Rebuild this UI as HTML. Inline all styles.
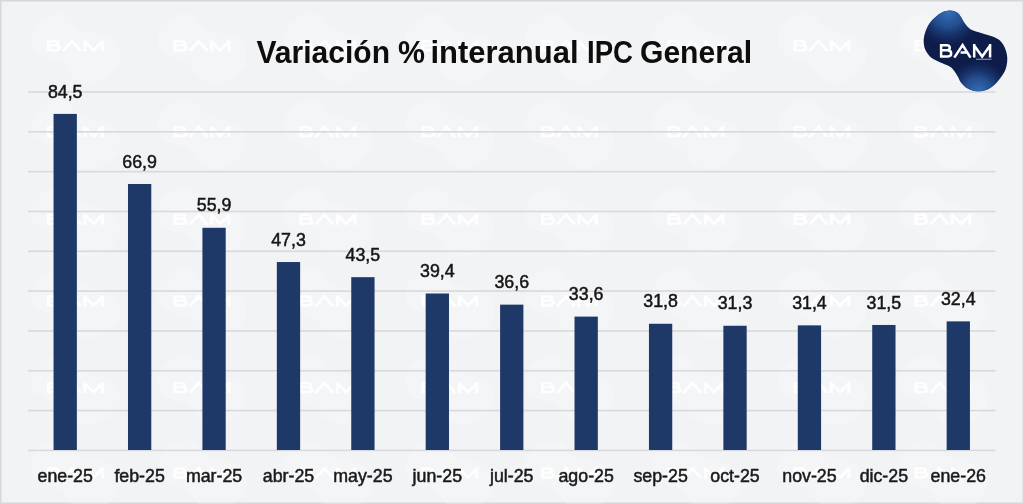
<!DOCTYPE html>
<html><head><meta charset="utf-8"><style>
html,body{margin:0;padding:0;background:#f2f3f5;}
.wrap{position:absolute;left:0;top:0;width:1024px;height:504px;will-change:transform;}
svg{display:block;font-family:"Liberation Sans",sans-serif;}
</style></head><body><div class="wrap">
<svg width="1024" height="504" viewBox="0 0 1024 504">
<defs>
<path id="blob" d="M-15.60 -39.90 C-13.08 -39.90 -10.25 -39.05 -8.40 -38.00 C-6.55 -36.95 -5.68 -35.27 -4.50 -33.60 C-3.32 -31.93 -2.80 -30.02 -1.30 -28.00 C0.20 -25.98 2.22 -23.10 4.50 -21.50 C6.78 -19.90 9.75 -19.32 12.40 -18.40 C15.05 -17.48 17.75 -16.80 20.40 -16.00 C23.05 -15.20 26.05 -14.53 28.30 -13.60 C30.55 -12.67 32.32 -11.72 33.90 -10.40 C35.48 -9.08 36.68 -7.55 37.80 -5.70 C38.92 -3.85 39.93 -1.55 40.60 0.70 C41.27 2.95 41.73 5.33 41.80 7.80 C41.87 10.27 41.63 12.97 41.00 15.50 C40.37 18.03 39.83 20.03 38.00 23.00 C36.17 25.97 32.65 30.65 30.00 33.30 C27.35 35.95 25.27 37.65 22.10 38.90 C18.93 40.15 14.30 40.93 11.00 40.80 C7.70 40.67 4.82 39.48 2.30 38.10 C-0.22 36.72 -2.38 34.62 -4.10 32.50 C-5.82 30.38 -6.52 27.77 -8.00 25.40 C-9.48 23.03 -11.47 20.00 -13.00 18.30 C-14.53 16.60 -15.18 16.25 -17.20 15.20 C-19.22 14.15 -22.47 13.18 -25.10 12.00 C-27.73 10.82 -30.88 9.55 -33.00 8.10 C-35.12 6.65 -36.47 5.15 -37.80 3.30 C-39.13 1.45 -40.33 -0.62 -41.00 -3.00 C-41.67 -5.38 -41.97 -8.33 -41.80 -11.00 C-41.63 -13.67 -40.97 -16.33 -40.00 -19.00 C-39.03 -21.67 -37.55 -24.70 -36.00 -27.00 C-34.45 -29.30 -32.78 -30.97 -30.70 -32.80 C-28.62 -34.63 -26.02 -36.82 -23.50 -38.00 C-20.98 -39.18 -18.12 -39.90 -15.60 -39.90 Z"/>
<path id="bam" d="M1.10 0.00 L1.10 13.50 M0.00 1.10 L6.50 1.10 C10.90 1.10 10.90 6.20 6.50 6.20 L1.10 6.20 M0.00 6.20 L7.20 6.20 C12.50 6.20 12.50 12.40 7.20 12.40 L0.00 12.40 M14.30 13.50 L22.60 0.90 L30.50 13.50 M20.60 8.30 L27.20 8.30 M34.20 13.50 L34.20 0.00 M34.20 1.40 L42.15 12.40 L50.10 1.40 M50.10 0.00 L50.10 13.50"/><path id="bamw" d="M1.10 0.00 L1.10 13.50 M0.00 1.10 L6.50 1.10 C10.90 1.10 10.90 6.20 6.50 6.20 L1.10 6.20 M0.00 6.20 L7.20 6.20 C12.50 6.20 12.50 12.40 7.20 12.40 L0.00 12.40 M14.30 13.50 L22.60 0.90 L30.50 13.50 M34.20 13.50 L34.20 0.00 M34.20 1.40 L42.15 12.40 L50.10 1.40 M50.10 0.00 L50.10 13.50"/>
<radialGradient id="h1" gradientUnits="userSpaceOnUse" cx="948" cy="12" r="34">
<stop offset="0%" stop-color="#3470b8" stop-opacity="1"/>
<stop offset="45%" stop-color="#2a5aa0" stop-opacity="0.8"/>
<stop offset="100%" stop-color="#1a3a7a" stop-opacity="0"/>
</radialGradient>
<radialGradient id="h2" gradientUnits="userSpaceOnUse" cx="978" cy="92" r="32">
<stop offset="0%" stop-color="#3470b8" stop-opacity="1"/>
<stop offset="45%" stop-color="#2a5aa0" stop-opacity="0.8"/>
<stop offset="100%" stop-color="#1a3a7a" stop-opacity="0"/>
</radialGradient>
</defs>
<rect x="0" y="0" width="1024" height="504" fill="#d6d7d9"/>
<rect x="1.5" y="1.5" width="1021" height="501" fill="#f2f3f5"/>
<g transform="translate(75.5,45.8) translate(0,2) scale(1.07,0.86)"><use href="#blob" fill="#ffffff" fill-opacity="0.2"/></g><g transform="translate(47.20,40.40) scale(1.1,0.8)"><use href="#bamw" stroke="#ffffff" stroke-opacity="0.9" stroke-width="2.9" fill="none"/></g><g transform="translate(202.2,45.8) translate(0,2) scale(1.07,0.86)"><use href="#blob" fill="#ffffff" fill-opacity="0.2"/></g><g transform="translate(173.90,40.40) scale(1.1,0.8)"><use href="#bamw" stroke="#ffffff" stroke-opacity="0.9" stroke-width="2.9" fill="none"/></g><g transform="translate(328,45.8) translate(0,2) scale(1.07,0.86)"><use href="#blob" fill="#ffffff" fill-opacity="0.2"/></g><g transform="translate(299.70,40.40) scale(1.1,0.8)"><use href="#bamw" stroke="#ffffff" stroke-opacity="0.9" stroke-width="2.9" fill="none"/></g><g transform="translate(450,45.8) translate(0,2) scale(1.07,0.86)"><use href="#blob" fill="#ffffff" fill-opacity="0.2"/></g><g transform="translate(421.70,40.40) scale(1.1,0.8)"><use href="#bamw" stroke="#ffffff" stroke-opacity="0.9" stroke-width="2.9" fill="none"/></g><g transform="translate(569.5,45.8) translate(0,2) scale(1.07,0.86)"><use href="#blob" fill="#ffffff" fill-opacity="0.2"/></g><g transform="translate(541.20,40.40) scale(1.1,0.8)"><use href="#bamw" stroke="#ffffff" stroke-opacity="0.9" stroke-width="2.9" fill="none"/></g><g transform="translate(696,45.8) translate(0,2) scale(1.07,0.86)"><use href="#blob" fill="#ffffff" fill-opacity="0.2"/></g><g transform="translate(667.70,40.40) scale(1.1,0.8)"><use href="#bamw" stroke="#ffffff" stroke-opacity="0.9" stroke-width="2.9" fill="none"/></g><g transform="translate(822,45.8) translate(0,2) scale(1.07,0.86)"><use href="#blob" fill="#ffffff" fill-opacity="0.2"/></g><g transform="translate(793.70,40.40) scale(1.1,0.8)"><use href="#bamw" stroke="#ffffff" stroke-opacity="0.9" stroke-width="2.9" fill="none"/></g><g transform="translate(943,45.8) translate(0,2) scale(1.07,0.86)"><use href="#blob" fill="#ffffff" fill-opacity="0.2"/></g><g transform="translate(914.70,40.40) scale(1.1,0.8)"><use href="#bamw" stroke="#ffffff" stroke-opacity="0.9" stroke-width="2.9" fill="none"/></g><g transform="translate(75.5,131.7) translate(0,2) scale(1.07,0.86)"><use href="#blob" fill="#ffffff" fill-opacity="0.2"/></g><g transform="translate(47.20,126.30) scale(1.1,0.8)"><use href="#bamw" stroke="#ffffff" stroke-opacity="0.9" stroke-width="2.9" fill="none"/></g><g transform="translate(202.2,131.7) translate(0,2) scale(1.07,0.86)"><use href="#blob" fill="#ffffff" fill-opacity="0.2"/></g><g transform="translate(173.90,126.30) scale(1.1,0.8)"><use href="#bamw" stroke="#ffffff" stroke-opacity="0.9" stroke-width="2.9" fill="none"/></g><g transform="translate(328,131.7) translate(0,2) scale(1.07,0.86)"><use href="#blob" fill="#ffffff" fill-opacity="0.2"/></g><g transform="translate(299.70,126.30) scale(1.1,0.8)"><use href="#bamw" stroke="#ffffff" stroke-opacity="0.9" stroke-width="2.9" fill="none"/></g><g transform="translate(450,131.7) translate(0,2) scale(1.07,0.86)"><use href="#blob" fill="#ffffff" fill-opacity="0.2"/></g><g transform="translate(421.70,126.30) scale(1.1,0.8)"><use href="#bamw" stroke="#ffffff" stroke-opacity="0.9" stroke-width="2.9" fill="none"/></g><g transform="translate(569.5,131.7) translate(0,2) scale(1.07,0.86)"><use href="#blob" fill="#ffffff" fill-opacity="0.2"/></g><g transform="translate(541.20,126.30) scale(1.1,0.8)"><use href="#bamw" stroke="#ffffff" stroke-opacity="0.9" stroke-width="2.9" fill="none"/></g><g transform="translate(696,131.7) translate(0,2) scale(1.07,0.86)"><use href="#blob" fill="#ffffff" fill-opacity="0.2"/></g><g transform="translate(667.70,126.30) scale(1.1,0.8)"><use href="#bamw" stroke="#ffffff" stroke-opacity="0.9" stroke-width="2.9" fill="none"/></g><g transform="translate(822,131.7) translate(0,2) scale(1.07,0.86)"><use href="#blob" fill="#ffffff" fill-opacity="0.2"/></g><g transform="translate(793.70,126.30) scale(1.1,0.8)"><use href="#bamw" stroke="#ffffff" stroke-opacity="0.9" stroke-width="2.9" fill="none"/></g><g transform="translate(943,131.7) translate(0,2) scale(1.07,0.86)"><use href="#blob" fill="#ffffff" fill-opacity="0.2"/></g><g transform="translate(914.70,126.30) scale(1.1,0.8)"><use href="#bamw" stroke="#ffffff" stroke-opacity="0.9" stroke-width="2.9" fill="none"/></g><g transform="translate(75.5,219.3) translate(0,2) scale(1.07,0.86)"><use href="#blob" fill="#ffffff" fill-opacity="0.2"/></g><g transform="translate(47.20,213.90) scale(1.1,0.8)"><use href="#bamw" stroke="#ffffff" stroke-opacity="0.9" stroke-width="2.9" fill="none"/></g><g transform="translate(202.2,219.3) translate(0,2) scale(1.07,0.86)"><use href="#blob" fill="#ffffff" fill-opacity="0.2"/></g><g transform="translate(173.90,213.90) scale(1.1,0.8)"><use href="#bamw" stroke="#ffffff" stroke-opacity="0.9" stroke-width="2.9" fill="none"/></g><g transform="translate(328,219.3) translate(0,2) scale(1.07,0.86)"><use href="#blob" fill="#ffffff" fill-opacity="0.2"/></g><g transform="translate(299.70,213.90) scale(1.1,0.8)"><use href="#bamw" stroke="#ffffff" stroke-opacity="0.9" stroke-width="2.9" fill="none"/></g><g transform="translate(450,219.3) translate(0,2) scale(1.07,0.86)"><use href="#blob" fill="#ffffff" fill-opacity="0.2"/></g><g transform="translate(421.70,213.90) scale(1.1,0.8)"><use href="#bamw" stroke="#ffffff" stroke-opacity="0.9" stroke-width="2.9" fill="none"/></g><g transform="translate(569.5,219.3) translate(0,2) scale(1.07,0.86)"><use href="#blob" fill="#ffffff" fill-opacity="0.2"/></g><g transform="translate(541.20,213.90) scale(1.1,0.8)"><use href="#bamw" stroke="#ffffff" stroke-opacity="0.9" stroke-width="2.9" fill="none"/></g><g transform="translate(696,219.3) translate(0,2) scale(1.07,0.86)"><use href="#blob" fill="#ffffff" fill-opacity="0.2"/></g><g transform="translate(667.70,213.90) scale(1.1,0.8)"><use href="#bamw" stroke="#ffffff" stroke-opacity="0.9" stroke-width="2.9" fill="none"/></g><g transform="translate(822,219.3) translate(0,2) scale(1.07,0.86)"><use href="#blob" fill="#ffffff" fill-opacity="0.2"/></g><g transform="translate(793.70,213.90) scale(1.1,0.8)"><use href="#bamw" stroke="#ffffff" stroke-opacity="0.9" stroke-width="2.9" fill="none"/></g><g transform="translate(943,219.3) translate(0,2) scale(1.07,0.86)"><use href="#blob" fill="#ffffff" fill-opacity="0.2"/></g><g transform="translate(914.70,213.90) scale(1.1,0.8)"><use href="#bamw" stroke="#ffffff" stroke-opacity="0.9" stroke-width="2.9" fill="none"/></g><g transform="translate(75.5,301) translate(0,2) scale(1.07,0.86)"><use href="#blob" fill="#ffffff" fill-opacity="0.2"/></g><g transform="translate(47.20,295.60) scale(1.1,0.8)"><use href="#bamw" stroke="#ffffff" stroke-opacity="0.9" stroke-width="2.9" fill="none"/></g><g transform="translate(202.2,301) translate(0,2) scale(1.07,0.86)"><use href="#blob" fill="#ffffff" fill-opacity="0.2"/></g><g transform="translate(173.90,295.60) scale(1.1,0.8)"><use href="#bamw" stroke="#ffffff" stroke-opacity="0.9" stroke-width="2.9" fill="none"/></g><g transform="translate(328,301) translate(0,2) scale(1.07,0.86)"><use href="#blob" fill="#ffffff" fill-opacity="0.2"/></g><g transform="translate(299.70,295.60) scale(1.1,0.8)"><use href="#bamw" stroke="#ffffff" stroke-opacity="0.9" stroke-width="2.9" fill="none"/></g><g transform="translate(450,301) translate(0,2) scale(1.07,0.86)"><use href="#blob" fill="#ffffff" fill-opacity="0.2"/></g><g transform="translate(421.70,295.60) scale(1.1,0.8)"><use href="#bamw" stroke="#ffffff" stroke-opacity="0.9" stroke-width="2.9" fill="none"/></g><g transform="translate(569.5,301) translate(0,2) scale(1.07,0.86)"><use href="#blob" fill="#ffffff" fill-opacity="0.2"/></g><g transform="translate(541.20,295.60) scale(1.1,0.8)"><use href="#bamw" stroke="#ffffff" stroke-opacity="0.9" stroke-width="2.9" fill="none"/></g><g transform="translate(696,301) translate(0,2) scale(1.07,0.86)"><use href="#blob" fill="#ffffff" fill-opacity="0.2"/></g><g transform="translate(667.70,295.60) scale(1.1,0.8)"><use href="#bamw" stroke="#ffffff" stroke-opacity="0.9" stroke-width="2.9" fill="none"/></g><g transform="translate(822,301) translate(0,2) scale(1.07,0.86)"><use href="#blob" fill="#ffffff" fill-opacity="0.2"/></g><g transform="translate(793.70,295.60) scale(1.1,0.8)"><use href="#bamw" stroke="#ffffff" stroke-opacity="0.9" stroke-width="2.9" fill="none"/></g><g transform="translate(943,301) translate(0,2) scale(1.07,0.86)"><use href="#blob" fill="#ffffff" fill-opacity="0.2"/></g><g transform="translate(914.70,295.60) scale(1.1,0.8)"><use href="#bamw" stroke="#ffffff" stroke-opacity="0.9" stroke-width="2.9" fill="none"/></g><g transform="translate(75.5,387.6) translate(0,2) scale(1.07,0.86)"><use href="#blob" fill="#ffffff" fill-opacity="0.2"/></g><g transform="translate(47.20,382.20) scale(1.1,0.8)"><use href="#bamw" stroke="#ffffff" stroke-opacity="0.9" stroke-width="2.9" fill="none"/></g><g transform="translate(202.2,387.6) translate(0,2) scale(1.07,0.86)"><use href="#blob" fill="#ffffff" fill-opacity="0.2"/></g><g transform="translate(173.90,382.20) scale(1.1,0.8)"><use href="#bamw" stroke="#ffffff" stroke-opacity="0.9" stroke-width="2.9" fill="none"/></g><g transform="translate(328,387.6) translate(0,2) scale(1.07,0.86)"><use href="#blob" fill="#ffffff" fill-opacity="0.2"/></g><g transform="translate(299.70,382.20) scale(1.1,0.8)"><use href="#bamw" stroke="#ffffff" stroke-opacity="0.9" stroke-width="2.9" fill="none"/></g><g transform="translate(450,387.6) translate(0,2) scale(1.07,0.86)"><use href="#blob" fill="#ffffff" fill-opacity="0.2"/></g><g transform="translate(421.70,382.20) scale(1.1,0.8)"><use href="#bamw" stroke="#ffffff" stroke-opacity="0.9" stroke-width="2.9" fill="none"/></g><g transform="translate(569.5,387.6) translate(0,2) scale(1.07,0.86)"><use href="#blob" fill="#ffffff" fill-opacity="0.2"/></g><g transform="translate(541.20,382.20) scale(1.1,0.8)"><use href="#bamw" stroke="#ffffff" stroke-opacity="0.9" stroke-width="2.9" fill="none"/></g><g transform="translate(696,387.6) translate(0,2) scale(1.07,0.86)"><use href="#blob" fill="#ffffff" fill-opacity="0.2"/></g><g transform="translate(667.70,382.20) scale(1.1,0.8)"><use href="#bamw" stroke="#ffffff" stroke-opacity="0.9" stroke-width="2.9" fill="none"/></g><g transform="translate(822,387.6) translate(0,2) scale(1.07,0.86)"><use href="#blob" fill="#ffffff" fill-opacity="0.2"/></g><g transform="translate(793.70,382.20) scale(1.1,0.8)"><use href="#bamw" stroke="#ffffff" stroke-opacity="0.9" stroke-width="2.9" fill="none"/></g><g transform="translate(943,387.6) translate(0,2) scale(1.07,0.86)"><use href="#blob" fill="#ffffff" fill-opacity="0.2"/></g><g transform="translate(914.70,382.20) scale(1.1,0.8)"><use href="#bamw" stroke="#ffffff" stroke-opacity="0.9" stroke-width="2.9" fill="none"/></g><g transform="translate(75.5,473) translate(0,2) scale(1.07,0.86)"><use href="#blob" fill="#ffffff" fill-opacity="0.2"/></g><g transform="translate(47.20,467.60) scale(1.1,0.8)"><use href="#bamw" stroke="#ffffff" stroke-opacity="0.9" stroke-width="2.9" fill="none"/></g><g transform="translate(202.2,473) translate(0,2) scale(1.07,0.86)"><use href="#blob" fill="#ffffff" fill-opacity="0.2"/></g><g transform="translate(173.90,467.60) scale(1.1,0.8)"><use href="#bamw" stroke="#ffffff" stroke-opacity="0.9" stroke-width="2.9" fill="none"/></g><g transform="translate(328,473) translate(0,2) scale(1.07,0.86)"><use href="#blob" fill="#ffffff" fill-opacity="0.2"/></g><g transform="translate(299.70,467.60) scale(1.1,0.8)"><use href="#bamw" stroke="#ffffff" stroke-opacity="0.9" stroke-width="2.9" fill="none"/></g><g transform="translate(450,473) translate(0,2) scale(1.07,0.86)"><use href="#blob" fill="#ffffff" fill-opacity="0.2"/></g><g transform="translate(421.70,467.60) scale(1.1,0.8)"><use href="#bamw" stroke="#ffffff" stroke-opacity="0.9" stroke-width="2.9" fill="none"/></g><g transform="translate(569.5,473) translate(0,2) scale(1.07,0.86)"><use href="#blob" fill="#ffffff" fill-opacity="0.2"/></g><g transform="translate(541.20,467.60) scale(1.1,0.8)"><use href="#bamw" stroke="#ffffff" stroke-opacity="0.9" stroke-width="2.9" fill="none"/></g><g transform="translate(696,473) translate(0,2) scale(1.07,0.86)"><use href="#blob" fill="#ffffff" fill-opacity="0.2"/></g><g transform="translate(667.70,467.60) scale(1.1,0.8)"><use href="#bamw" stroke="#ffffff" stroke-opacity="0.9" stroke-width="2.9" fill="none"/></g><g transform="translate(822,473) translate(0,2) scale(1.07,0.86)"><use href="#blob" fill="#ffffff" fill-opacity="0.2"/></g><g transform="translate(793.70,467.60) scale(1.1,0.8)"><use href="#bamw" stroke="#ffffff" stroke-opacity="0.9" stroke-width="2.9" fill="none"/></g><g transform="translate(943,473) translate(0,2) scale(1.07,0.86)"><use href="#blob" fill="#ffffff" fill-opacity="0.2"/></g><g transform="translate(914.70,467.60) scale(1.1,0.8)"><use href="#bamw" stroke="#ffffff" stroke-opacity="0.9" stroke-width="2.9" fill="none"/></g>
<rect x="28.0" y="449.60" width="967.5" height="1.6" fill="#d8d9dc"/><rect x="28.0" y="409.78" width="967.5" height="1.6" fill="#d8d9dc"/><rect x="28.0" y="369.96" width="967.5" height="1.6" fill="#d8d9dc"/><rect x="28.0" y="330.13" width="967.5" height="1.6" fill="#d8d9dc"/><rect x="28.0" y="290.31" width="967.5" height="1.6" fill="#d8d9dc"/><rect x="28.0" y="250.49" width="967.5" height="1.6" fill="#d8d9dc"/><rect x="28.0" y="210.67" width="967.5" height="1.6" fill="#d8d9dc"/><rect x="28.0" y="170.84" width="967.5" height="1.6" fill="#d8d9dc"/><rect x="28.0" y="131.02" width="967.5" height="1.6" fill="#d8d9dc"/><rect x="28.0" y="91.20" width="967.5" height="1.6" fill="#d8d9dc"/>
<rect x="53.56" y="113.90" width="23.3" height="336.10" fill="#1e3868"/><rect x="127.98" y="183.99" width="23.3" height="266.01" fill="#1e3868"/><rect x="202.41" y="227.79" width="23.3" height="222.21" fill="#1e3868"/><rect x="276.83" y="262.04" width="23.3" height="187.96" fill="#1e3868"/><rect x="351.25" y="277.17" width="23.3" height="172.83" fill="#1e3868"/><rect x="425.68" y="293.50" width="23.3" height="156.50" fill="#1e3868"/><rect x="500.10" y="304.65" width="23.3" height="145.35" fill="#1e3868"/><rect x="574.52" y="316.60" width="23.3" height="133.40" fill="#1e3868"/><rect x="648.95" y="323.77" width="23.3" height="126.23" fill="#1e3868"/><rect x="723.37" y="325.76" width="23.3" height="124.24" fill="#1e3868"/><rect x="797.79" y="325.36" width="23.3" height="124.64" fill="#1e3868"/><rect x="872.22" y="324.96" width="23.3" height="125.04" fill="#1e3868"/><rect x="946.64" y="321.38" width="23.3" height="128.62" fill="#1e3868"/>
<text x="65.21" y="97.60" text-anchor="middle" font-size="17.8" fill="#161616" stroke="#161616" stroke-width="0.5">84,5</text><text x="65.21" y="481.5" text-anchor="middle" font-size="17.8" fill="#1a1a1a" stroke="#1a1a1a" stroke-width="0.5">ene-25</text><text x="139.63" y="167.69" text-anchor="middle" font-size="17.8" fill="#161616" stroke="#161616" stroke-width="0.5">66,9</text><text x="139.63" y="481.5" text-anchor="middle" font-size="17.8" fill="#1a1a1a" stroke="#1a1a1a" stroke-width="0.5">feb-25</text><text x="214.06" y="211.49" text-anchor="middle" font-size="17.8" fill="#161616" stroke="#161616" stroke-width="0.5">55,9</text><text x="214.06" y="481.5" text-anchor="middle" font-size="17.8" fill="#1a1a1a" stroke="#1a1a1a" stroke-width="0.5">mar-25</text><text x="288.48" y="245.74" text-anchor="middle" font-size="17.8" fill="#161616" stroke="#161616" stroke-width="0.5">47,3</text><text x="288.48" y="481.5" text-anchor="middle" font-size="17.8" fill="#1a1a1a" stroke="#1a1a1a" stroke-width="0.5">abr-25</text><text x="362.90" y="260.87" text-anchor="middle" font-size="17.8" fill="#161616" stroke="#161616" stroke-width="0.5">43,5</text><text x="362.90" y="481.5" text-anchor="middle" font-size="17.8" fill="#1a1a1a" stroke="#1a1a1a" stroke-width="0.5">may-25</text><text x="437.33" y="277.20" text-anchor="middle" font-size="17.8" fill="#161616" stroke="#161616" stroke-width="0.5">39,4</text><text x="437.33" y="481.5" text-anchor="middle" font-size="17.8" fill="#1a1a1a" stroke="#1a1a1a" stroke-width="0.5">jun-25</text><text x="511.75" y="288.35" text-anchor="middle" font-size="17.8" fill="#161616" stroke="#161616" stroke-width="0.5">36,6</text><text x="511.75" y="481.5" text-anchor="middle" font-size="17.8" fill="#1a1a1a" stroke="#1a1a1a" stroke-width="0.5">jul-25</text><text x="586.17" y="300.30" text-anchor="middle" font-size="17.8" fill="#161616" stroke="#161616" stroke-width="0.5">33,6</text><text x="586.17" y="481.5" text-anchor="middle" font-size="17.8" fill="#1a1a1a" stroke="#1a1a1a" stroke-width="0.5">ago-25</text><text x="660.60" y="307.47" text-anchor="middle" font-size="17.8" fill="#161616" stroke="#161616" stroke-width="0.5">31,8</text><text x="660.60" y="481.5" text-anchor="middle" font-size="17.8" fill="#1a1a1a" stroke="#1a1a1a" stroke-width="0.5">sep-25</text><text x="735.02" y="309.46" text-anchor="middle" font-size="17.8" fill="#161616" stroke="#161616" stroke-width="0.5">31,3</text><text x="735.02" y="481.5" text-anchor="middle" font-size="17.8" fill="#1a1a1a" stroke="#1a1a1a" stroke-width="0.5">oct-25</text><text x="809.44" y="309.06" text-anchor="middle" font-size="17.8" fill="#161616" stroke="#161616" stroke-width="0.5">31,4</text><text x="809.44" y="481.5" text-anchor="middle" font-size="17.8" fill="#1a1a1a" stroke="#1a1a1a" stroke-width="0.5">nov-25</text><text x="883.87" y="308.66" text-anchor="middle" font-size="17.8" fill="#161616" stroke="#161616" stroke-width="0.5">31,5</text><text x="883.87" y="481.5" text-anchor="middle" font-size="17.8" fill="#1a1a1a" stroke="#1a1a1a" stroke-width="0.5">dic-25</text><text x="958.29" y="305.08" text-anchor="middle" font-size="17.8" fill="#161616" stroke="#161616" stroke-width="0.5">32,4</text><text x="958.29" y="481.5" text-anchor="middle" font-size="17.8" fill="#1a1a1a" stroke="#1a1a1a" stroke-width="0.5">ene-26</text>
<text x="256.50" y="63" font-size="31.5" font-weight="bold" fill="#0d0d0d" textLength="133.50" lengthAdjust="spacingAndGlyphs">Variación</text><text x="398.00" y="63" font-size="31.5" font-weight="bold" fill="#0d0d0d" textLength="27.00" lengthAdjust="spacingAndGlyphs">%</text><text x="430.50" y="63" font-size="31.5" font-weight="bold" fill="#0d0d0d" textLength="148.00" lengthAdjust="spacingAndGlyphs">interanual</text><text x="587.00" y="63" font-size="31.5" font-weight="bold" fill="#0d0d0d" textLength="46.00" lengthAdjust="spacingAndGlyphs">IPC</text><text x="640.00" y="63" font-size="31.5" font-weight="bold" fill="#0d0d0d" textLength="112.00" lengthAdjust="spacingAndGlyphs">General</text>

<path d="M949.90 10.60 C952.42 10.60 955.25 11.45 957.10 12.50 C958.95 13.55 959.82 15.23 961.00 16.90 C962.18 18.57 962.70 20.48 964.20 22.50 C965.70 24.52 967.72 27.40 970.00 29.00 C972.28 30.60 975.25 31.18 977.90 32.10 C980.55 33.02 983.25 33.70 985.90 34.50 C988.55 35.30 991.55 35.97 993.80 36.90 C996.05 37.83 997.82 38.78 999.40 40.10 C1000.98 41.42 1002.18 42.95 1003.30 44.80 C1004.42 46.65 1005.43 48.95 1006.10 51.20 C1006.77 53.45 1007.23 55.83 1007.30 58.30 C1007.37 60.77 1007.13 63.47 1006.50 66.00 C1005.87 68.53 1005.33 70.53 1003.50 73.50 C1001.67 76.47 998.15 81.15 995.50 83.80 C992.85 86.45 990.77 88.15 987.60 89.40 C984.43 90.65 979.80 91.43 976.50 91.30 C973.20 91.17 970.32 89.98 967.80 88.60 C965.28 87.22 963.12 85.12 961.40 83.00 C959.68 80.88 958.98 78.27 957.50 75.90 C956.02 73.53 954.03 70.50 952.50 68.80 C950.97 67.10 950.32 66.75 948.30 65.70 C946.28 64.65 943.03 63.68 940.40 62.50 C937.77 61.32 934.62 60.05 932.50 58.60 C930.38 57.15 929.03 55.65 927.70 53.80 C926.37 51.95 925.17 49.88 924.50 47.50 C923.83 45.12 923.53 42.17 923.70 39.50 C923.87 36.83 924.53 34.17 925.50 31.50 C926.47 28.83 927.95 25.80 929.50 23.50 C931.05 21.20 932.72 19.53 934.80 17.70 C936.88 15.87 939.48 13.68 942.00 12.50 C944.52 11.32 947.38 10.60 949.90 10.60 Z" fill="#0e1c4a"/><path d="M949.90 10.60 C952.42 10.60 955.25 11.45 957.10 12.50 C958.95 13.55 959.82 15.23 961.00 16.90 C962.18 18.57 962.70 20.48 964.20 22.50 C965.70 24.52 967.72 27.40 970.00 29.00 C972.28 30.60 975.25 31.18 977.90 32.10 C980.55 33.02 983.25 33.70 985.90 34.50 C988.55 35.30 991.55 35.97 993.80 36.90 C996.05 37.83 997.82 38.78 999.40 40.10 C1000.98 41.42 1002.18 42.95 1003.30 44.80 C1004.42 46.65 1005.43 48.95 1006.10 51.20 C1006.77 53.45 1007.23 55.83 1007.30 58.30 C1007.37 60.77 1007.13 63.47 1006.50 66.00 C1005.87 68.53 1005.33 70.53 1003.50 73.50 C1001.67 76.47 998.15 81.15 995.50 83.80 C992.85 86.45 990.77 88.15 987.60 89.40 C984.43 90.65 979.80 91.43 976.50 91.30 C973.20 91.17 970.32 89.98 967.80 88.60 C965.28 87.22 963.12 85.12 961.40 83.00 C959.68 80.88 958.98 78.27 957.50 75.90 C956.02 73.53 954.03 70.50 952.50 68.80 C950.97 67.10 950.32 66.75 948.30 65.70 C946.28 64.65 943.03 63.68 940.40 62.50 C937.77 61.32 934.62 60.05 932.50 58.60 C930.38 57.15 929.03 55.65 927.70 53.80 C926.37 51.95 925.17 49.88 924.50 47.50 C923.83 45.12 923.53 42.17 923.70 39.50 C923.87 36.83 924.53 34.17 925.50 31.50 C926.47 28.83 927.95 25.80 929.50 23.50 C931.05 21.20 932.72 19.53 934.80 17.70 C936.88 15.87 939.48 13.68 942.00 12.50 C944.52 11.32 947.38 10.60 949.90 10.60 Z" fill="url(#h1)"/><path d="M949.90 10.60 C952.42 10.60 955.25 11.45 957.10 12.50 C958.95 13.55 959.82 15.23 961.00 16.90 C962.18 18.57 962.70 20.48 964.20 22.50 C965.70 24.52 967.72 27.40 970.00 29.00 C972.28 30.60 975.25 31.18 977.90 32.10 C980.55 33.02 983.25 33.70 985.90 34.50 C988.55 35.30 991.55 35.97 993.80 36.90 C996.05 37.83 997.82 38.78 999.40 40.10 C1000.98 41.42 1002.18 42.95 1003.30 44.80 C1004.42 46.65 1005.43 48.95 1006.10 51.20 C1006.77 53.45 1007.23 55.83 1007.30 58.30 C1007.37 60.77 1007.13 63.47 1006.50 66.00 C1005.87 68.53 1005.33 70.53 1003.50 73.50 C1001.67 76.47 998.15 81.15 995.50 83.80 C992.85 86.45 990.77 88.15 987.60 89.40 C984.43 90.65 979.80 91.43 976.50 91.30 C973.20 91.17 970.32 89.98 967.80 88.60 C965.28 87.22 963.12 85.12 961.40 83.00 C959.68 80.88 958.98 78.27 957.50 75.90 C956.02 73.53 954.03 70.50 952.50 68.80 C950.97 67.10 950.32 66.75 948.30 65.70 C946.28 64.65 943.03 63.68 940.40 62.50 C937.77 61.32 934.62 60.05 932.50 58.60 C930.38 57.15 929.03 55.65 927.70 53.80 C926.37 51.95 925.17 49.88 924.50 47.50 C923.83 45.12 923.53 42.17 923.70 39.50 C923.87 36.83 924.53 34.17 925.50 31.50 C926.47 28.83 927.95 25.80 929.50 23.50 C931.05 21.20 932.72 19.53 934.80 17.70 C936.88 15.87 939.48 13.68 942.00 12.50 C944.52 11.32 947.38 10.60 949.90 10.60 Z" fill="url(#h2)"/>
<g transform="translate(940,44.1)"><use href="#bam" stroke="#ffffff" stroke-width="2.5" fill="none"/></g>
<rect x="976" y="58.8" width="15.5" height="0.8" fill="#b8c4dc"/>
</svg>
</div></body></html>
